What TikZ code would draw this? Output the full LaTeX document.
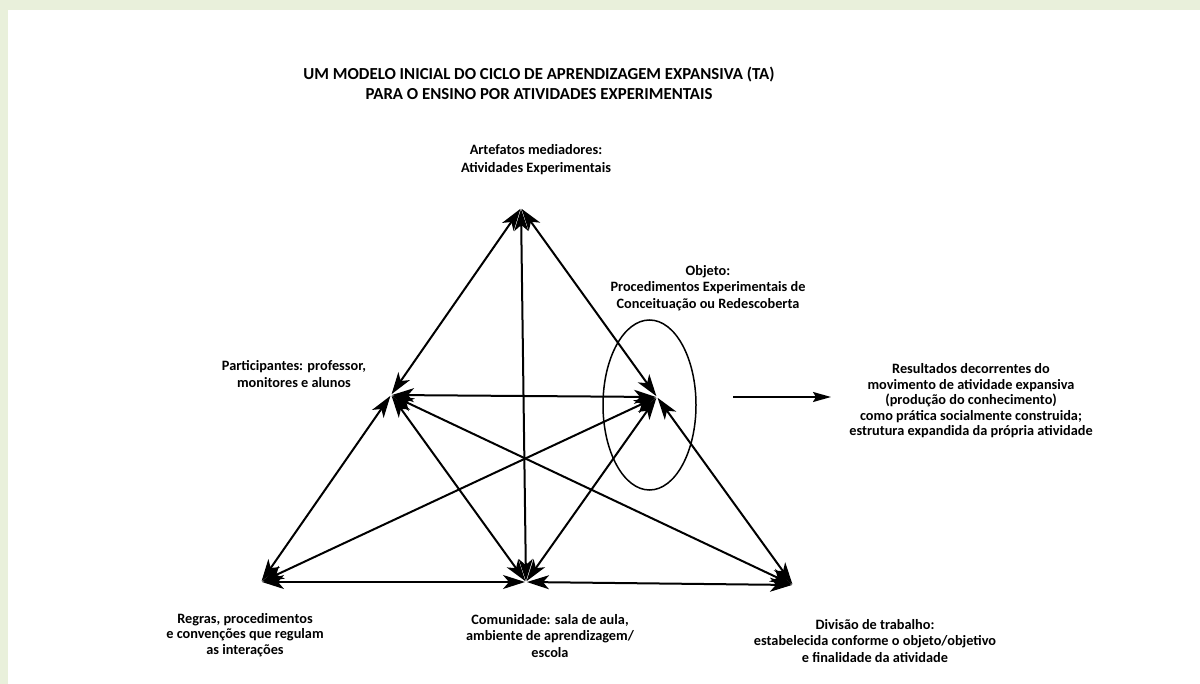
\documentclass[tikz,border=0pt]{standalone}
\usepackage{fontspec}
\setmainfont{Carlito}
\usetikzlibrary{arrows.meta,shapes.geometric}
\definecolor{bggreen}{RGB}{233,240,219}
\begin{document}
\begin{tikzpicture}[x=1pt,y=-1pt,
  lbl/.style={align=center,inner sep=0pt},
  link/.style={line width=2pt,{Stealth[length=22pt,width=14pt,inset=6pt]}-{Stealth[length=22pt,width=14pt,inset=6pt]},shorten <=1pt,shorten >=1pt},
  outarrow/.style={line width=2pt,-{Stealth[length=18pt,width=10pt,inset=3pt]}}]
\useasboundingbox (0,0) rectangle (1200,684);
\fill[bggreen] (0,0) rectangle (1200,684);
\fill[white] (8,10) rectangle (1200,684);

% vertices
\coordinate (A) at (521,208);
\coordinate (P) at (391,395);
\coordinate (O) at (657,397);
\coordinate (R) at (261,582);
\coordinate (C) at (526,582);
\coordinate (D) at (793,585);

% title
\node[align=center,inner sep=0pt,font=\fontsize{16.8}{20}\selectfont\bfseries] (title) at (539,83)
  {UM MODELO INICIAL DO CICLO DE APRENDIZAGEM EXPANSIVA (TA)\\PARA O ENSINO POR ATIVIDADES EXPERIMENTAIS};

% ellipse
\node[draw,ellipse,line width=1.5pt,minimum width=93pt,minimum height=170pt,inner sep=0pt] (ell) at (649.5,405) {};

% connectors
\draw[link] (A) -- (P);
\draw[link] (A) -- (O);
\draw[link] (A) -- (C);
\draw[link] (P) -- (O);
\draw[link] (P) -- (R);
\draw[link] (P) -- (C);
\draw[link] (P) -- (D);
\draw[link] (O) -- (R);
\draw[link] (O) -- (C);
\draw[link] (O) -- (D);
\draw[link] (R) -- (C);
\draw[link] (C) -- (D);

% output arrow
\coordinate (r1) at (733,397);
\coordinate (r2) at (831,397);
\draw[outarrow] (r1) -- (r2);

% labels
\node[lbl,font=\fontsize{14.3}{18}\selectfont\bfseries] (art) at (536,160) {Artefatos mediadores:\\Atividades Experimentais};
\node[lbl,font=\fontsize{14.3}{16.5}\selectfont\bfseries] (obj) at (708,288) {Objeto:\\Procedimentos Experimentais de\\Conceituação ou Redescoberta};
\node[lbl,font=\fontsize{14.3}{15.5}\selectfont\bfseries] (res) at (971,401) {Resultados decorrentes do\\movimento de atividade expansiva\\(produção do conhecimento)\\como prática socialmente construida;\\estrutura expandida da própria atividade};
\node[lbl,font=\fontsize{14.3}{17}\selectfont\bfseries] (part) at (294,374) {Participantes: professor,\\monitores e alunos};
\node[lbl,font=\fontsize{14.3}{15.5}\selectfont\bfseries] (reg) at (245,635) {Regras, procedimentos\\e convenções que regulam\\as interações};
\node[lbl,font=\fontsize{14.3}{16.5}\selectfont\bfseries] (com) at (550,636) {Comunidade: sala de aula,\\ambiente de aprendizagem/\\escola};
\node[lbl,font=\fontsize{14.3}{16.5}\selectfont\bfseries] (div) at (875,641) {Divisão de trabalho:\\estabelecida conforme o objeto/objetivo\\e finalidade da atividade};
\end{tikzpicture}
\end{document}
